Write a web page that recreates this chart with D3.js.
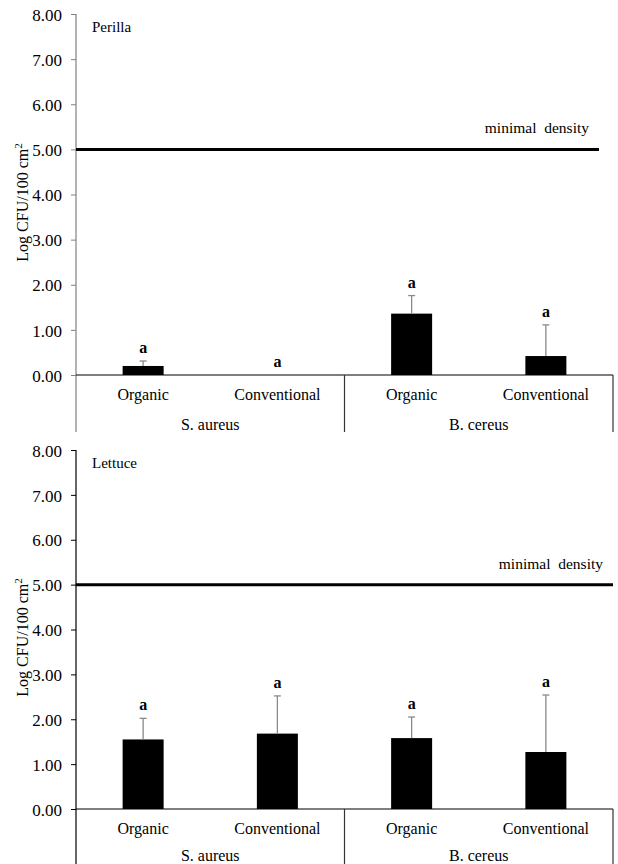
<!DOCTYPE html>
<html lang="en">
<head>
<meta charset="utf-8">
<script src="https://cdn.jsdelivr.net/npm/d3@7"></script>
<style>
  body { margin: 0; background: #fff; }
  svg text { font-family: "Liberation Serif", "Times New Roman", Times, "Nimbus Roman", "DejaVu Serif", serif !important; fill: #000; }
  .tick text { font-size: 17px; }
</style>
</head>
<body>
<svg width="618" height="864"></svg>
<script>
// chart values
var groups = ["S. aureus", "B. cereus"];
var methods = ["Organic", "Conventional"];
var yTicks = [0, 1, 2, 3, 4, 5, 6, 7, 8];
var minimalDensity = 5;

var perillaMean = [0.20, 0.00, 1.36, 0.42];
var perillaErr = [0.11, 0.00, 0.40, 0.69];
var perillaLetters = ["a", "a", "a", "a"];

var lettuceMean = [1.55, 1.68, 1.58, 1.27];
var lettuceErr = [0.47, 0.84, 0.47, 1.27];
var lettuceLetters = ["a", "a", "a", "a"];

var svg = d3.select("svg");

// categories: one per group x method
var cats = [];
groups.forEach(function (g) {
    methods.forEach(function (m) { cats.push(g + "|" + m); });
});

var x = d3.scaleBand().domain(cats).range([76, 613]).padding(0);
var xg = d3.scaleBand().domain(groups).range([76, 613]).padding(0);
var barW = 41;

function drawPanel(p) {
    var y = d3.scaleLinear().domain([0, 8]).range([p.y0, p.y8]);
    var g = svg.append("g");

    // y axis
    var ax = g.append("g")
        .attr("transform", "translate(76,0)")
        .call(d3.axisLeft(y).tickValues(yTicks).tickFormat(d3.format(".2f")).tickSize(5).tickPadding(9));
    ax.attr("font-family", null);
    ax.select(".domain").remove();
    ax.selectAll(".tick line").attr("stroke", p.axisColor);
    ax.selectAll(".tick text").attr("dy", "0.36em");
    g.append("line")
        .attr("x1", 76).attr("x2", 76)
        .attr("y1", p.y8).attr("y2", p.axisBottom)
        .attr("stroke", p.axisColor).attr("stroke-width", 1.2);

    // y label
    var lab = g.append("text")
        .attr("transform", "translate(28," + ((p.y0 + p.y8) / 2 + 8) + ") rotate(-90)")
        .attr("text-anchor", "middle")
        .style("font-size", "16px");
    lab.append("tspan").text("Log CFU/100 cm");
    lab.append("tspan").text("2").attr("baseline-shift", "super").style("font-size", "11px");

    // panel title
    g.append("text").attr("x", 92).attr("y", p.y8 + 18)
        .style("font-size", "15px").text(p.title);

    // minimal density line
    g.append("line")
        .attr("x1", 76).attr("x2", p.lineEnd)
        .attr("y1", y(minimalDensity)).attr("y2", y(minimalDensity))
        .attr("stroke", "#000").attr("stroke-width", 3);
    g.append("text")
        .attr("x", p.lineEnd - 10).attr("y", y(minimalDensity) - 16)
        .attr("text-anchor", "end")
        .attr("xml:space", "preserve")
        .style("white-space", "pre")
        .style("font-size", "15.5px")
        .text("minimal  density");

    // bars
    g.selectAll(".bar")
        .data(p.mean)
        .enter().append("rect")
        .attr("x", function (d, i) { return x(cats[i]) + x.bandwidth() / 2 - barW / 2; })
        .attr("y", function (d) { return y(d); })
        .attr("width", barW)
        .attr("height", function (d) { return y(0) - y(d); })
        .attr("fill", "#000");

    // error bars
    p.mean.forEach(function (d, i) {
        if (p.err[i] <= 0) return;
        var cx = x(cats[i]) + x.bandwidth() / 2;
        var top = y(d + p.err[i]);
        g.append("line").attr("x1", cx).attr("x2", cx)
            .attr("y1", y(d)).attr("y2", top)
            .attr("stroke", "#8a8a8a").attr("stroke-width", 1.3);
        g.append("line").attr("x1", cx - 3.5).attr("x2", cx + 3.5)
            .attr("y1", top).attr("y2", top)
            .attr("stroke", "#8a8a8a").attr("stroke-width", 1.3);
    });

    // significance letters
    g.selectAll(".sig")
        .data(p.letters)
        .enter().append("text")
        .attr("x", function (d, i) { return x(cats[i]) + x.bandwidth() / 2; })
        .attr("y", function (d, i) { return y(p.mean[i] + p.err[i]) - 8; })
        .attr("text-anchor", "middle")
        .style("font-size", "16px")
        .style("font-weight", "bold")
        .text(function (d) { return d; });

    // x axis line at zero
    g.append("line")
        .attr("x1", 76).attr("x2", 613)
        .attr("y1", y(0)).attr("y2", y(0))
        .attr("stroke", "#000").attr("stroke-width", 1.2);

    // group separators
    [xg.range()[0] + xg.bandwidth(), 613].forEach(function (sx) {
        g.append("line")
            .attr("x1", sx).attr("x2", sx)
            .attr("y1", y(0)).attr("y2", p.axisBottom)
            .attr("stroke", "#333").attr("stroke-width", 1.2);
    });

    // method labels
    g.selectAll(".cat")
        .data(cats)
        .enter().append("text")
        .attr("x", function (d) { return x(d) + x.bandwidth() / 2; })
        .attr("y", y(0) + 25)
        .attr("text-anchor", "middle")
        .style("font-size", "16px")
        .text(function (d) { return d.split("|")[1]; });

    // group labels
    g.selectAll(".grp")
        .data(groups)
        .enter().append("text")
        .attr("x", function (d) { return xg(d) + xg.bandwidth() / 2; })
        .attr("y", y(0) + p.groupOffset)
        .attr("text-anchor", "middle")
        .style("font-size", "16px")
        .text(function (d) { return d; });
}

drawPanel({
    title: "Perilla", mean: perillaMean, err: perillaErr, letters: perillaLetters,
    y0: 375, y8: 14, axisBottom: 432, axisColor: "#808080", lineEnd: 599, groupOffset: 55
});
drawPanel({
    title: "Lettuce", mean: lettuceMean, err: lettuceErr, letters: lettuceLetters,
    y0: 809, y8: 450, axisBottom: 864, axisColor: "#000", lineEnd: 613, groupOffset: 52
});
</script>
</body>
</html>
